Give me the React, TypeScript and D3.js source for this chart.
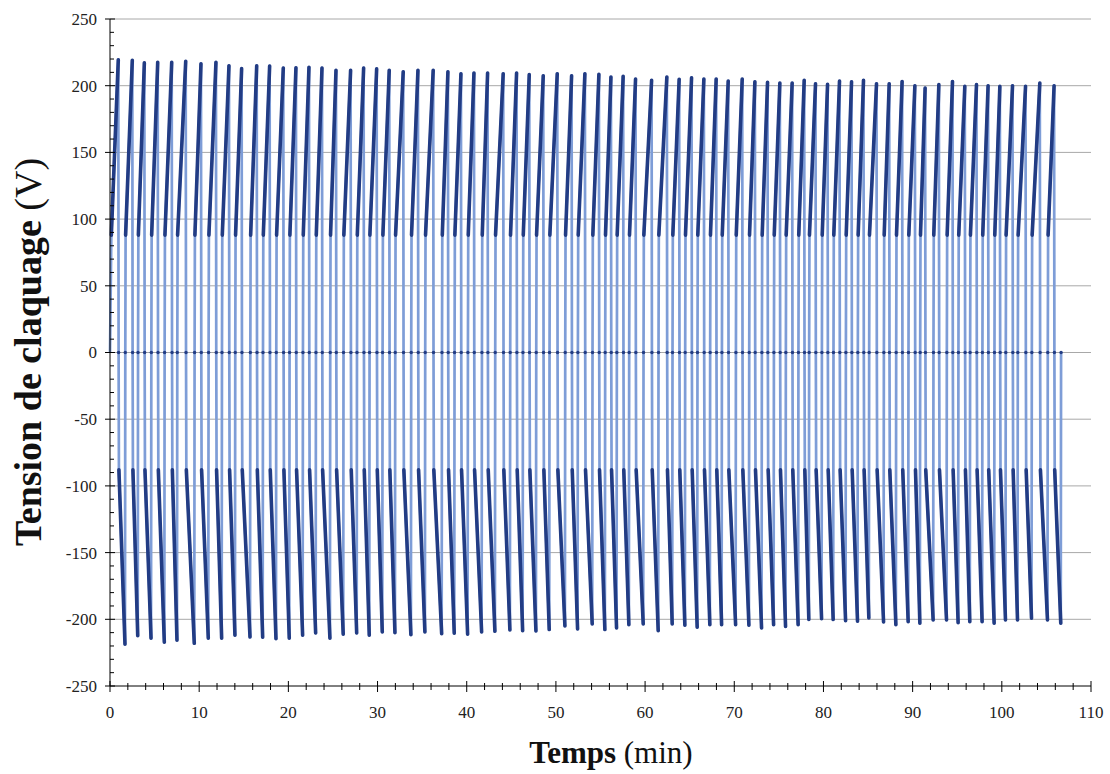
import React from 'react';
import * as d3 from 'd3';

// Breakdown peaks (time in min, voltage in V)
const posPeakTime = [0.93, 2.50, 3.85, 5.35, 6.92, 8.49, 10.20, 11.88, 13.34, 14.76, 16.45, 17.90, 19.43, 20.85, 22.31, 23.77, 25.34, 26.98, 28.44, 29.90, 31.31, 32.88, 34.53, 36.24, 37.89, 39.35, 40.81, 42.34, 44.09, 45.59, 47.01, 48.58, 50.15, 51.76, 53.25, 54.82, 56.17, 57.54, 58.93, 60.73, 62.44, 63.82, 65.21, 66.59, 67.97, 69.32, 70.89, 72.31, 73.73, 75.11, 76.49, 77.84, 79.11, 80.46, 81.80, 83.15, 84.49, 85.95, 87.37, 88.82, 90.25, 91.40, 92.94, 94.47, 95.85, 97.16, 98.46, 99.78, 101.20, 102.66, 104.26, 105.86];
const posPeakVolt = [219.5, 219.0, 217.1, 217.5, 217.5, 218.3, 216.5, 217.5, 215.0, 212.8, 215.0, 214.8, 213.3, 213.5, 213.8, 213.3, 211.5, 211.5, 213.3, 212.6, 211.5, 210.5, 211.5, 211.5, 210.5, 209.0, 209.5, 209.5, 209.0, 209.5, 208.3, 207.5, 209.0, 207.5, 209.0, 208.5, 206.5, 207.0, 205.0, 204.0, 206.5, 204.8, 206.0, 205.0, 205.0, 203.5, 205.0, 203.0, 202.5, 202.0, 202.0, 204.0, 201.5, 201.0, 203.5, 203.0, 204.0, 201.5, 201.5, 203.2, 200.0, 198.3, 200.8, 203.2, 199.5, 200.8, 200.0, 199.5, 200.0, 199.5, 202.0, 200.0];
const negPeakTime = [1.68, 3.11, 4.60, 6.09, 7.51, 9.45, 11.02, 12.52, 14.01, 15.70, 17.12, 18.61, 20.10, 21.60, 23.06, 24.66, 26.15, 27.66, 29.07, 30.53, 31.95, 33.74, 35.31, 37.19, 38.60, 40.10, 41.67, 43.16, 44.84, 46.27, 47.76, 49.25, 51.01, 52.43, 54.07, 55.49, 56.80, 58.18, 59.79, 61.47, 63.04, 64.46, 65.84, 67.26, 68.58, 70.15, 71.64, 73.06, 74.41, 75.75, 77.16, 78.36, 79.79, 81.09, 82.48, 83.82, 85.09, 86.74, 88.12, 89.50, 90.81, 92.30, 93.80, 95.10, 96.41, 97.79, 99.14, 100.41, 101.76, 103.33, 105.12, 106.61];
const negPeakVolt = [-218.6, -212.3, -214.1, -217.1, -215.6, -218.0, -214.1, -214.1, -212.0, -213.3, -213.5, -214.5, -214.1, -212.0, -210.3, -214.1, -211.1, -210.3, -212.0, -209.5, -210.0, -211.5, -209.5, -210.8, -210.5, -211.1, -209.5, -209.0, -208.0, -208.5, -208.8, -207.7, -205.0, -207.3, -203.5, -207.7, -206.5, -204.0, -203.5, -208.5, -203.5, -204.5, -206.0, -204.0, -204.0, -204.0, -204.5, -206.5, -204.0, -205.3, -204.0, -200.2, -199.5, -200.2, -201.0, -201.5, -199.0, -202.0, -204.0, -201.8, -203.0, -200.5, -200.5, -202.5, -201.8, -201.8, -203.0, -200.5, -200.5, -199.2, -200.5, -203.0];

// level (V) where the slow ramp starts after the fast step from 0
const rampStartVolt = 88;

const yTicks = [-250, -200, -150, -100, -50, 0, 50, 100, 150, 200, 250];
const xTicks = [0, 10, 20, 30, 40, 50, 60, 70, 80, 90, 100, 110];

const FONT = "'Liberation Serif', 'Times New Roman', serif";
const DARK = '#223c84';
const LIGHT = '#7e9dd7';

export default function App() {
  const x = d3.scaleLinear().domain([0, 110]).range([110, 1091]);
  const y = d3.scaleLinear().domain([-250, 250]).range([686, 19]);

  const peaks = [
    ...posPeakTime.map((t, i) => ({ t, v: posPeakVolt[i], s: 1 })),
    ...negPeakTime.map((t, i) => ({ t, v: negPeakVolt[i], s: -1 })),
  ].sort((a, b) => a.t - b.t);

  type P = [number, number];
  const series: P[] = [[0, 0]];
  const ramps: P[][] = [];
  const zeros: P[] = [];
  peaks.forEach((p, k) => {
    const ts = k === 0 ? 0.15 : peaks[k - 1].t + 0.07;
    const start: P = [ts, p.s * rampStartVolt];
    const top: P = [p.t, p.v];
    const z: P = [p.t + 0.035, 0];
    series.push(start, top, z);
    ramps.push([start, top]);
    zeros.push(z);
  });

  const line = d3.line<P>().x(d => x(d[0])).y(d => y(d[1]));

  const minorY = d3.range(-250, 251, 10).filter(v => v % 50 !== 0);
  const minorX = d3.range(0, 111, 2).filter(v => v % 10 !== 0);

  return (
    <svg width={1110} height={774} style={{ position: 'absolute', left: 0, top: 0, background: '#fff' }}>
      <rect width={1110} height={774} fill="#fff" />
      {/* gridlines */}
      {yTicks.filter(v => v > -250).map(v => (
        <line key={'g' + v} x1={x(0)} x2={x(110)} y1={y(v)} y2={y(v)} stroke="#a8a8a8" strokeWidth={1} />
      ))}
      {/* light connecting line */}
      <path d={line(series) || ''} fill="none" stroke={LIGHT} strokeWidth={2.7} strokeLinejoin="round" />
      {/* dark ramps (dense markers) */}
      {ramps.map((r, i) => (
        <path key={'r' + i} d={line(r) || ''} fill="none" stroke={DARK} strokeWidth={3.6} strokeLinecap="round" />
      ))}
      {zeros.map((z, i) => (
        <circle key={'z' + i} cx={x(z[0])} cy={y(z[1])} r={1.7} fill={DARK} />
      ))}
      {/* axes */}
      <line x1={x(0)} x2={x(0)} y1={y(250)} y2={y(-250)} stroke="#000" strokeWidth={1} />
      <line x1={x(0)} x2={x(110)} y1={y(-250)} y2={y(-250)} stroke="#000" strokeWidth={1} />
      {yTicks.map(v => (
        <line key={'yt' + v} x1={x(0) - 5} x2={x(0) + 5} y1={y(v)} y2={y(v)} stroke="#000" />
      ))}
      {minorY.map(v => (
        <line key={'ym' + v} x1={x(0)} x2={x(0) + 4} y1={y(v)} y2={y(v)} stroke="#000" />
      ))}
      {xTicks.map(v => (
        <line key={'xt' + v} x1={x(v)} x2={x(v)} y1={y(-250) - 5} y2={y(-250) + 6} stroke="#000" />
      ))}
      {minorX.map(v => (
        <line key={'xm' + v} x1={x(v)} x2={x(v)} y1={y(-250) - 3} y2={y(-250) + 4} stroke="#000" />
      ))}
      {yTicks.map(v => (
        <text key={'yl' + v} x={97} y={y(v)} dy="0.35em" textAnchor="end" fontFamily={FONT} fontSize={17} fill="#222">{v}</text>
      ))}
      {xTicks.map(v => (
        <text key={'xl' + v} x={x(v)} y={718} textAnchor="middle" fontFamily={FONT} fontSize={17} fill="#222">{v}</text>
      ))}
      <text x={611} y={763} textAnchor="middle" fontFamily={FONT} fontSize={31} fill="#111">
        <tspan fontWeight="bold">Temps</tspan> (min)
      </text>
      <text transform="translate(41,352) rotate(-90)" textAnchor="middle" fontFamily={FONT} fontSize={38} fill="#111">
        <tspan fontWeight="bold">Tension de claquage</tspan> (V)
      </text>
    </svg>
  );
}
